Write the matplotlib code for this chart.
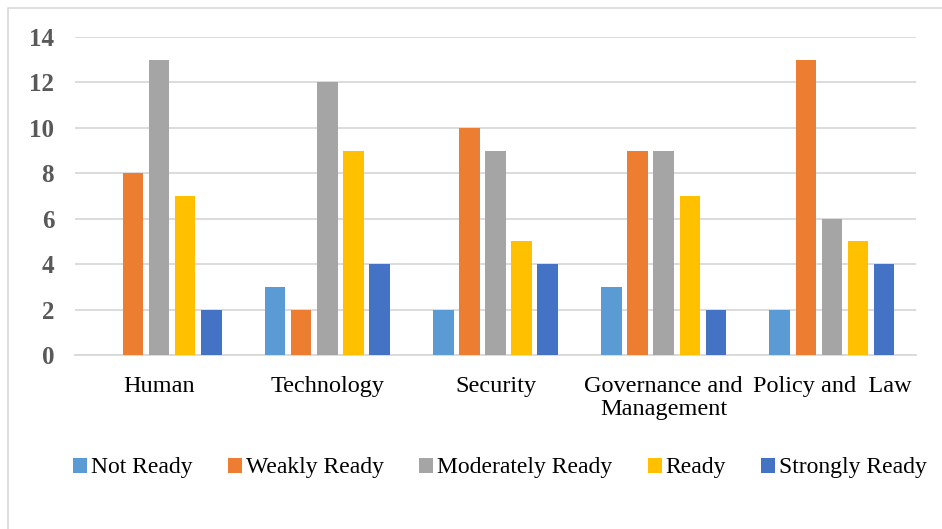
import numpy as np
import matplotlib
matplotlib.use("Agg")
import matplotlib.pyplot as plt
from matplotlib.patches import Rectangle

# ==============================
# DATOS
# ==============================

categories = ["Human", "Technology", "Security", "Governance and\nManagement", "Policy and  Law"]
series_names = ["Not Ready", "Weakly Ready", "Moderately Ready", "Ready", "Strongly Ready"]

not_ready = [0, 3, 2, 3, 2]
weakly_ready = [8, 2, 10, 9, 13]
moderately_ready = [13, 12, 9, 9, 6]
ready = [7, 9, 5, 7, 5]
strongly_ready = [2, 4, 4, 2, 4]

colors = ["#5B9BD5", "#ED7D31", "#A5A5A5", "#FFC000", "#4472C4"]

y_ticks = [0, 2, 4, 6, 8, 10, 12, 14]

# ==============================
# GRAFICA
# ==============================

plt.rcParams["font.family"] = ["Liberation Serif", "DejaVu Serif"]

fig = plt.figure(figsize=(9.42, 5.29), dpi=100)
ax = fig.add_axes([75 / 942, 1 - 355 / 529, (916 - 75) / 942, (355 - 37) / 529])

# borde del grafico
fig.patches.append(Rectangle((8 / 942, -0.05), 1.0, 1 - 8 / 529 + 0.05,
                             transform=fig.transFigure, fill=False,
                             edgecolor="#D9D9D9", linewidth=1.2))

all_series = [not_ready, weakly_ready, moderately_ready, ready, strongly_ready]
x = np.arange(len(categories))
pitch = 0.155
width = 0.122

for i, (name, vals) in enumerate(zip(series_names, all_series)):
    offset = (i - 2) * pitch
    ax.bar(x + offset, vals, width, color=colors[i], label=name, zorder=3)

ax.set_xlim(-0.5, len(categories) - 0.5)
ax.set_ylim(0, 14)
ax.set_yticks(y_ticks)
ax.set_yticklabels([str(t) for t in y_ticks], fontsize=18, fontweight="bold", color="#595959")
ax.set_xticks(x)
ax.set_xticklabels(categories, fontsize=17.5, color="#000000", linespacing=1.15)

ax.yaxis.grid(True, color="#D9D9D9", linewidth=1.3, zorder=0)
ax.set_axisbelow(True)

for side in ["top", "right", "left"]:
    ax.spines[side].set_visible(False)
ax.spines["bottom"].set_color("#D9D9D9")
ax.spines["bottom"].set_linewidth(1.3)

ax.tick_params(axis="both", length=0)
ax.tick_params(axis="x", pad=15)
ax.tick_params(axis="y", pad=15)

fig.legend(loc="center", bbox_to_anchor=(500 / 942, 1 - 468 / 529), ncol=5,
           frameon=False, fontsize=17, handlelength=0.6, handleheight=0.6,
           handletextpad=0.15, columnspacing=1.5)

fig.savefig("out.png", dpi=100)
